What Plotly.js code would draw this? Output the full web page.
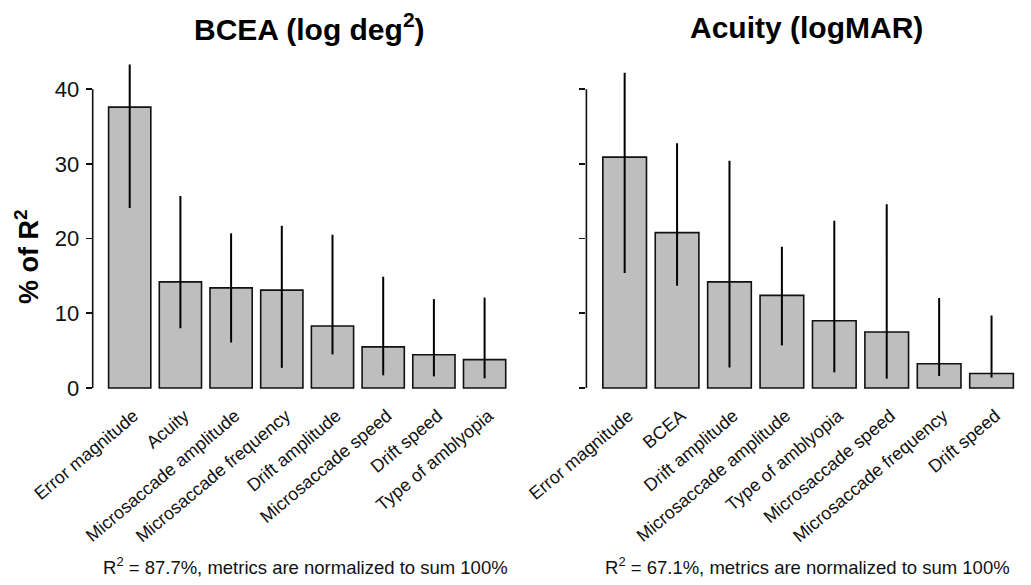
<!DOCTYPE html>
<html>
<head>
<meta charset="utf-8">
<script src="https://cdn.plot.ly/plotly-3.0.1.min.js"></script>
<style>html,body{margin:0;padding:0;background:#fff;}#chart{width:1031px;height:585px;}</style>
</head>
<body>
<div id="chart"></div>
<script>
// BCEA panel
const bceaCategories = ["Error magnitude", "Acuity", "Microsaccade amplitude", "Microsaccade frequency", "Drift amplitude", "Microsaccade speed", "Drift speed", "Type of amblyopia"];
const bceaValues = [37.6, 14.2, 13.4, 13.1, 8.3, 5.5, 4.45, 3.8];
const bceaLower  = [24.1, 8.0, 6.1, 2.7, 4.5, 1.7, 1.55, 1.3];
const bceaUpper  = [43.3, 25.7, 20.7, 21.7, 20.5, 14.9, 11.9, 12.1];

// Acuity panel
const acuityCategories = ["Error magnitude", "BCEA", "Drift amplitude", "Microsaccade amplitude", "Type of amblyopia", "Microsaccade speed", "Microsaccade frequency", "Drift speed"];
const acuityValues = [30.9, 20.8, 14.2, 12.4, 9.0, 7.5, 3.25, 1.95];
const acuityLower  = [15.4, 13.7, 2.75, 5.7, 2.1, 1.25, 1.6, 1.4];
const acuityUpper  = [42.2, 32.75, 30.4, 18.9, 22.4, 24.6, 12.05, 9.7];

const yTicks = [0, 10, 20, 30, 40];
const titles = ["BCEA (log deg<sup>2</sup>)", "Acuity (logMAR)"];
const footers = ["R<sup>2</sup> = 87.7%, metrics are normalized to sum 100%", "R<sup>2</sup> = 67.1%, metrics are normalized to sum 100%"];
const yLabel = "% of R<sup>2</sup>";

const FONT = "Liberation Sans, Arial, sans-serif";

function barTrace(cats, vals, lo, hi, xa, ya) {
  return {
    type: "bar",
    x: cats.map((c, i) => i),
    y: vals,
    xaxis: xa, yaxis: ya,
    width: 0.833,
    marker: {color: "#bebebe", line: {color: "#111", width: 1.6}},
    error_y: {
      type: "data", symmetric: false,
      array: hi.map((h, i) => h - vals[i]),
      arrayminus: vals.map((v, i) => v - lo[i]),
      color: "#000", thickness: 2, width: 0
    },
    hoverinfo: "skip",
    showlegend: false
  };
}

const data = [
  barTrace(bceaCategories, bceaValues, bceaLower, bceaUpper, "x", "y"),
  barTrace(acuityCategories, acuityValues, acuityLower, acuityUpper, "x2", "y2")
];

const W = 1031, H = 585;
const leftDom = [92.7 / W, 521.6 / W];
const rightDom = [586.4 / W, 1029.8 / W];
const yDom = [(H - 401) / H, (H - 50) / H];
const yRange = [-1.74, 45.24];
const xRange = [-0.73, 7.73];

function xAxis(cats, dom, anchor) {
  return {
    domain: dom, anchor: anchor, range: xRange,
    tickmode: "array", tickvals: cats.map((c, i) => i), ticktext: cats,
    tickangle: -40, ticks: "", showline: false, showgrid: false, zeroline: false,
    tickfont: {family: FONT, size: 18, color: "#111"},
    ticklabelshift: 4,
    fixedrange: true
  };
}
function yAxis(anchor, showLabels) {
  return {
    domain: yDom, anchor: anchor, range: yRange,
    tickmode: "array", tickvals: yTicks, ticks: "outside", ticklen: 6, tickwidth: 1.6, tickcolor: "#111",
    showticklabels: showLabels, showline: false, showgrid: false, zeroline: false,
    tickfont: {family: FONT, size: 22, color: "#111"},
    ticklabelstandoff: 2,
    fixedrange: true
  };
}

const layout = {
  width: W, height: H,
  margin: {l: 0, r: 0, t: 0, b: 0},
  paper_bgcolor: "#fff", plot_bgcolor: "#fff",
  bargap: 0.167,
  xaxis: xAxis(bceaCategories, leftDom, "y"),
  yaxis: yAxis("x", true),
  xaxis2: xAxis(acuityCategories, rightDom, "y2"),
  yaxis2: yAxis("x2", false),
  shapes: [
    {type: "line", xref: "x domain", yref: "y", x0: 0, x1: 0, y0: yTicks[0], y1: yTicks[yTicks.length - 1], line: {color: "#111", width: 1.6}},
    {type: "line", xref: "x2 domain", yref: "y2", x0: 0, x1: 0, y0: yTicks[0], y1: yTicks[yTicks.length - 1], line: {color: "#111", width: 1.6}}
  ],
  annotations: [
    {text: "<b>" + titles[0] + "</b>", xref: "paper", yref: "paper", x: 309 / W, y: 1 - 27 / H, xanchor: "center", yanchor: "middle", showarrow: false, font: {family: FONT, size: 30, color: "#000"}},
    {text: "<b>" + titles[1] + "</b>", xref: "paper", yref: "paper", x: 806 / W, y: 1 - 27 / H, xanchor: "center", yanchor: "middle", showarrow: false, font: {family: FONT, size: 30, color: "#000"}},
    {text: footers[0], xref: "paper", yref: "paper", x: 305 / W, y: 1 - 566 / H, xanchor: "center", yanchor: "middle", showarrow: false, font: {family: FONT, size: 18.5, color: "#111"}},
    {text: footers[1], xref: "paper", yref: "paper", x: 807 / W, y: 1 - 566 / H, xanchor: "center", yanchor: "middle", showarrow: false, font: {family: FONT, size: 18.5, color: "#111"}},
    {text: "<b>" + yLabel + "</b>", xref: "paper", yref: "paper", x: 27 / W, y: 1 - 257 / H, xanchor: "center", yanchor: "middle", textangle: -90, showarrow: false, font: {family: FONT, size: 27, color: "#000"}}
  ]
};

Plotly.newPlot("chart", data, layout, {displayModeBar: false, staticPlot: true});
</script>
</body>
</html>
